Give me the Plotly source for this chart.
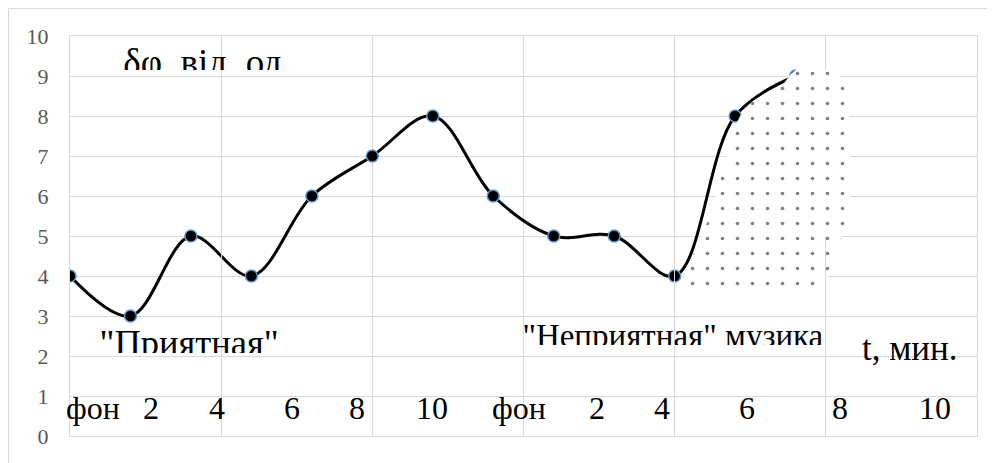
import plotly.graph_objects as go

# ---- data ----
sample_index = [0, 1, 2, 3, 4, 5, 6, 7, 8, 9, 10, 11, 12]
delta_phi = [4, 3, 5, 4, 6, 7, 8, 6, 5, 5, 4, 8, 9]

# tick-like labels written under the plot (text, x position in sample units)
bottom_labels = ["фон", "2", "4", "6", "8", "10", "фон", "2", "4", "6", "8", "10"]
bottom_label_x = [0.38, 1.34, 2.43, 3.67, 4.74, 5.98, 7.42, 8.71, 9.79, 11.19, 12.73, 14.30]

y_ticks = [0, 1, 2, 3, 4, 5, 6, 7, 8, 9, 10]

# dotted highlight region (sample units, value units)
region_x = [10.15, 10.35, 10.58, 10.74, 10.91, 11.06, 11.27, 11.54, 11.80, 11.92, 12.07,
            12.31, 12.60, 12.78, 12.88, 12.91, 12.91, 12.84, 12.69, 12.55, 12.45, 12.23,
            11.40, 10.50, 10.25]
region_y = [3.93, 4.70, 5.48, 6.33, 7.33, 7.95, 8.35, 8.60, 8.80, 9.05, 9.23,
            9.25, 9.18, 8.90, 8.40, 7.40, 5.90, 5.35, 4.65, 4.03, 3.73, 3.63,
            3.60, 3.63, 3.73]

GRID = "#d9d9d9"
SERIF = "Liberation Serif, Times New Roman, serif"

fig = go.Figure()

fig.add_trace(go.Scatter(
    x=sample_index, y=delta_phi, mode="lines+markers",
    line=dict(color="black", width=3, shape="spline", smoothing=1.0),
    marker=dict(size=12, color="black", line=dict(color="#5B9BD5", width=1.5)),
    hoverinfo="skip", showlegend=False,
))

fig.add_trace(go.Scatter(
    x=region_x, y=region_y, mode="lines", fill="toself",
    line=dict(color="rgba(0,0,0,0)", width=0),
    fillcolor="white",
    fillpattern=dict(shape=".", fgcolor="#000000", bgcolor="white", size=15, solidity=0.045),
    hoverinfo="skip", showlegend=False,
))

# clipped texts (each drawn in its own invisible subplot so that the bottom is cut)
clip_texts = [
    ("δφ, від. од.", 2.27, 9.2625, "y2", 37),
    ("\"Приятная\"", 1.97, 2.2525, "y3", 36.5),
    ("\"Неприятная\" музика", 9.97, 2.431, "y4", 33),
]
for txt, tx, ty, ya, fs in clip_texts:
    fig.add_trace(go.Scatter(
        x=[tx], y=[ty], mode="text", text=[txt], textposition="middle center",
        textfont=dict(family=SERIF, size=fs, color="black"),
        cliponaxis=True, yaxis=ya, hoverinfo="skip", showlegend=False,
    ))

for lab, lx in zip(bottom_labels, bottom_label_x):
    fig.add_annotation(x=lx, y=0.695, xref="x", yref="y", text=lab, showarrow=False,
                       xanchor="center", yanchor="middle",
                       font=dict(family=SERIF, size=32, color="black"))

fig.add_annotation(x=13.9, y=2.195, xref="x", yref="y", text="t, мин.", showarrow=False,
                   xanchor="center", yanchor="middle",
                   font=dict(family=SERIF, size=35, color="black"))

# outer chart border (top & left visible)
fig.add_shape(type="rect", xref="paper", yref="paper", x0=-0.0678, x1=1.06, y0=-0.2, y1=1.06875,
              line=dict(color=GRID, width=1), fillcolor="rgba(0,0,0,0)", layer="below")

fig.update_layout(
    width=995, height=463,
    margin=dict(l=62, r=26, t=28, b=35),
    paper_bgcolor="white", plot_bgcolor="rgba(0,0,0,0)",
    showlegend=False,
    xaxis=dict(range=[0, 15], tick0=0, dtick=2.5, showgrid=True, gridcolor=GRID, gridwidth=1,
               showticklabels=False, zeroline=False, showline=True, mirror=True,
               linecolor=GRID, linewidth=1, ticks=""),
    yaxis=dict(range=[0, 10], tickvals=y_ticks, showgrid=True, gridcolor=GRID, gridwidth=1,
               zeroline=False, showline=True, mirror=True, linecolor=GRID, linewidth=1,
               ticks="outside", ticklen=16, tickcolor="rgba(0,0,0,0)",
               tickfont=dict(family=SERIF, size=22, color="#595959")),
    yaxis2=dict(domain=[0.915, 1.0], range=[9.15, 10], visible=False, anchor="x"),
    yaxis3=dict(domain=[0.2075, 0.5], range=[2.075, 5], visible=False, anchor="x"),
    yaxis4=dict(domain=[0.2275, 0.5], range=[2.275, 5], visible=False, anchor="x"),
)

fig.write_html("out.html")
